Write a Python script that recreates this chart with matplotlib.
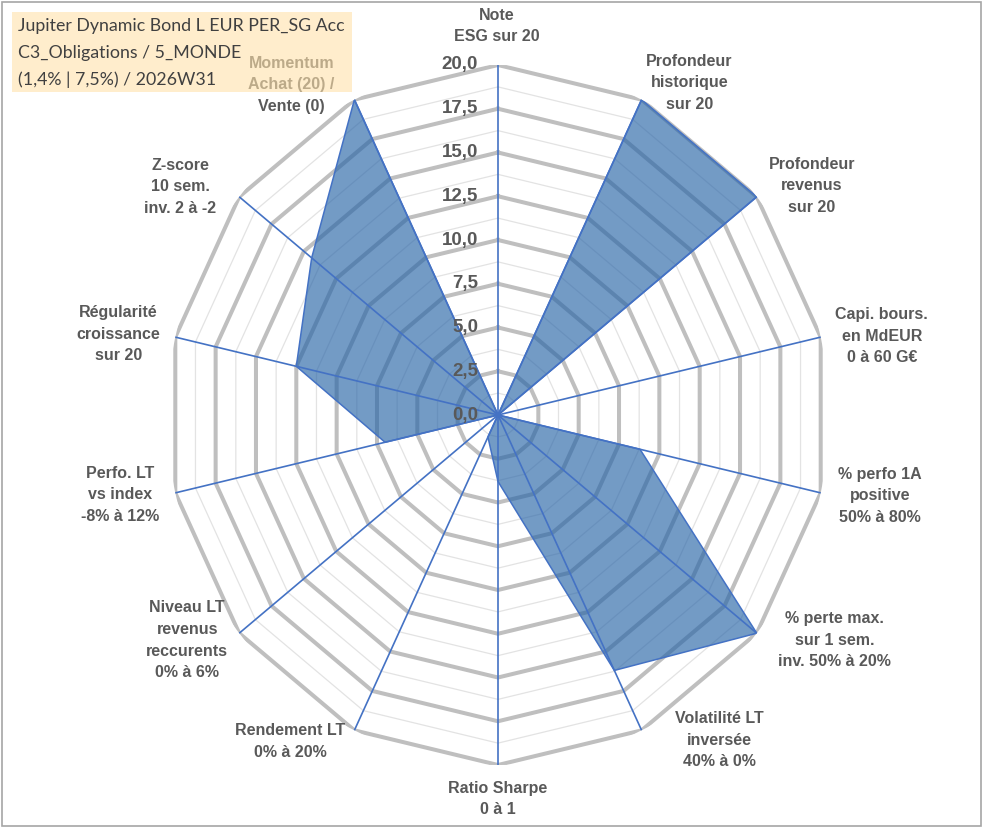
import numpy as np
import matplotlib.pyplot as plt
from matplotlib.patches import Rectangle

# radar axes, clockwise from the top
categories = ['Note\nESG sur 20',
              'Profondeur\nhistorique\nsur 20',
              'Profondeur\nrevenus\nsur 20',
              'Capi. bours.\nen MdEUR\n0 à 60 G€',
              '% perfo 1A\npositive\n50% à 80%',
              '% perte max.\nsur 1 sem.\ninv. 50% à 20%',
              'Volatilité LT\ninversée\n40% à 0%',
              'Ratio Sharpe\n0 à 1',
              'Rendement LT\n0% à 20%',
              'Niveau LT\nrevenus\nreccurents\n0% à 6%',
              'Perfo. LT\nvs index\n-8% à 12%',
              'Régularité\ncroissance\nsur 20',
              'Z-score\n10 sem.\ninv. 2 à -2',
              'Momentum\nAchat (20) /\nVente (0)']
scores = [0, 20, 20, 0, 8.8, 20, 16.2, 3.8, 1.4, 0, 7.0, 12.5, 14.4, 20]

major_levels = [2.5, 5, 7.5, 10, 12.5, 15, 17.5, 20]
minor_levels = [1.25, 3.75, 6.25, 8.75, 11.25, 13.75, 16.25, 18.75]
tick_values = [0, 2.5, 5, 7.5, 10, 12.5, 15, 17.5, 20]

title_lines = ['Jupiter Dynamic Bond L EUR PER_SG Acc',
               'C3_Obligations / 5_MONDE',
               '(1,4% | 7,5%) / 2026W31']

# label offsets from the outer vertex, in pixels
label_offsets = [(-1, 39), (48, 17), (55, 11), (61, 1), (59, -3), (78, -7), (78, -10),
                 (0, -34), (-64, -11), (-52, -7), (-55, -2), (-57, 3), (-59, 10), (-63, 15)]

W, H = 991, 830
fig = plt.figure(figsize=(W / 100, H / 100), dpi=100)
fig.patch.set_facecolor('white')

# center (498, 415), radius 331 x 350 px
ax = fig.add_axes([167 / W, 65 / H, 662 / W, 700 / H], projection='polar')
ax.set_aspect('auto')
ax.set_theta_offset(np.pi / 2)
ax.set_theta_direction(-1)
ax.set_ylim(0, 20)
ax.grid(False)
ax.set_xticks([])
ax.set_yticks([])
ax.spines['polar'].set_visible(False)
ax.patch.set_alpha(0)

n = len(categories)
angles = np.linspace(0, 2 * np.pi, n, endpoint=False)
ang_c = np.append(angles, angles[0])

for lv in minor_levels:
    ax.plot(ang_c, [lv] * (n + 1), color='#E3E3E3', lw=0.9, zorder=1)
for lv in major_levels:
    ax.plot(ang_c, [lv] * (n + 1), color='#BFBFBF', lw=2.9, zorder=2)

vals = np.append(scores, scores[0])
ax.fill(ang_c, vals, color='#2865A7', alpha=0.65, lw=0, zorder=3)
ax.plot(ang_c, vals, color='#4472C4', lw=1.1, zorder=4)

for a in angles:
    ax.plot([a, a], [0, 20], color='#4472C4', lw=1.2, zorder=5)

for v in tick_values:
    ax.annotate(f'{v:.1f}'.replace('.', ','), xy=(0, v), xytext=(-20, 0),
                textcoords='offset pixels', ha='right', va='center',
                fontsize=13.5, fontweight='bold', color='#595959',
                family='Liberation Sans', zorder=6)

for a, lab, off in zip(angles, categories, label_offsets):
    ax.annotate(lab, xy=(a, 20), xytext=off, textcoords='offset pixels',
                ha='center', va='center', multialignment='center',
                fontsize=11.5, fontweight='bold', color='#595959',
                family='Liberation Sans', linespacing=1.55,
                annotation_clip=False, zorder=6)

# outer frame
fig.add_artist(Rectangle((2 / W, 4 / H), 979 / W, 824 / H, transform=fig.transFigure,
                         fill=False, edgecolor='#A6A6A6', lw=1.2, zorder=1))

# title box, semi transparent over the chart
fig.add_artist(Rectangle((12 / W, (H - 92) / H), 340 / W, 80 / H, transform=fig.transFigure,
                         facecolor='#FFE1AA', alpha=0.6, edgecolor='none', zorder=10))
for i, line in enumerate(title_lines):
    fig.text(18 / W, (H - 26 - i * 26.7) / H, line, ha='left', va='center',
             fontsize=12.8, family='Lato', color='#404040', zorder=11)

fig.savefig('out.png', dpi=100)
